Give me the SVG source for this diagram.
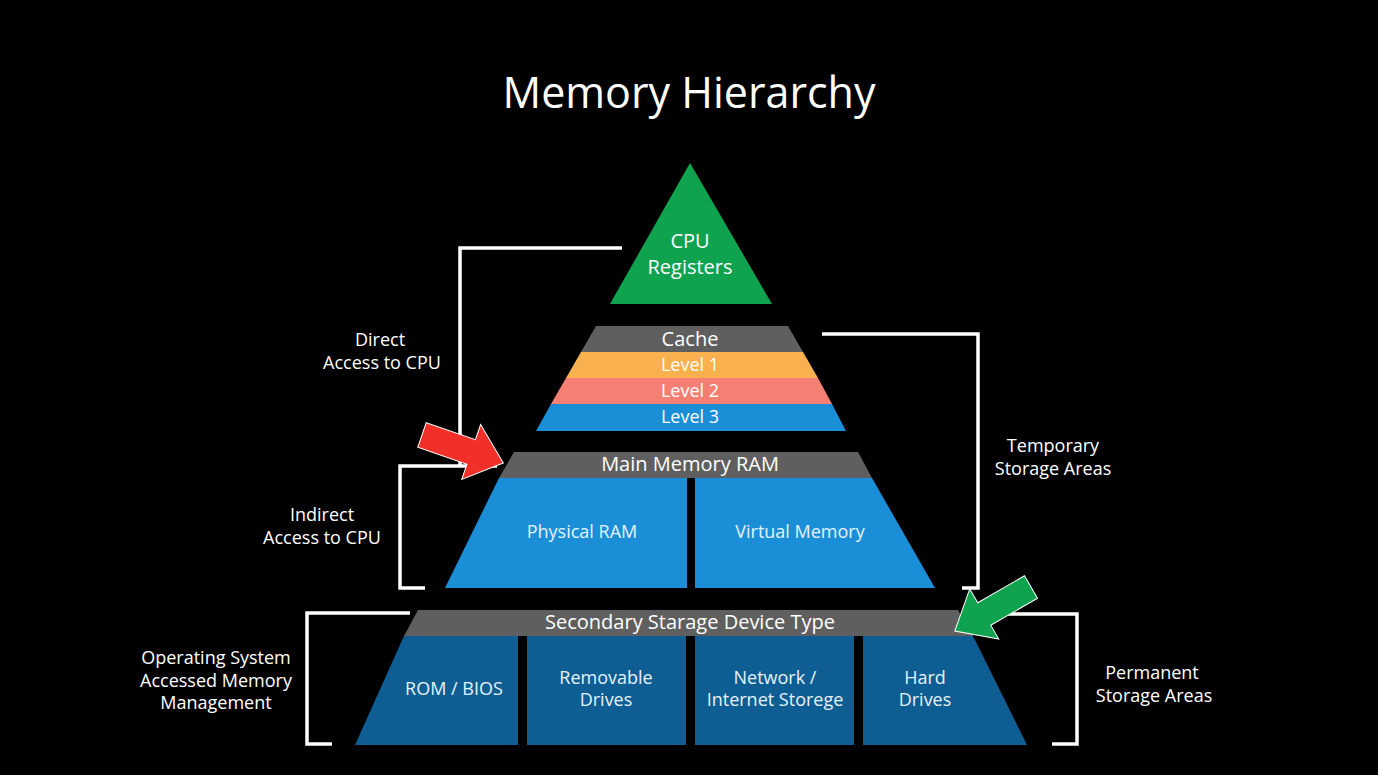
<svg xmlns="http://www.w3.org/2000/svg" width="1378" height="775" viewBox="0 0 1378 775">
<style>
text{font-family:"Open Sans","Noto Sans",sans-serif;fill:#fff;text-anchor:middle}
.l{font-size:18px}
.h{font-size:20px}
.b{fill:none;stroke:#fff;stroke-width:3.5}
.t{font-size:18px;fill:#e6f2fb}
</style>
<rect width="1378" height="775" fill="#000"/>
<text x="689" y="108" style="font-size:43px">Memory Hierarchy</text>
<g id="cpu"><polygon points="690,163 772,304 610,304" fill="#0fa350"/><text class="h" x="690" y="248">CPU</text><text class="h" x="690" y="274">Registers</text></g>
<g id="cache">
<polygon points="596,326 788,326 803,352 581,352" fill="#5f5f5f"/>
<polygon points="581,352 803,352 818,378 566,378" fill="#f9b04f"/>
<polygon points="566,378 818,378 832,404 551,404" fill="#f47f72"/>
<polygon points="551,404 832,404 846,431 536,431" fill="#1a8fd8"/>
<text class="h" x="690" y="346">Cache</text><text class="l" x="690" y="371">Level 1</text><text class="l" x="690" y="397">Level 2</text><text class="l" x="690" y="423">Level 3</text>
</g>
<g id="ram">
<polygon points="514,452 858,452 872,478 499,478" fill="#5f5f5f"/>
<polygon points="499,478 687,478 687,588 445,588" fill="#1a8fd8"/>
<polygon points="695,478 872,478 935,588 695,588" fill="#1a8fd8"/>
<text class="h" x="690" y="471">Main Memory RAM</text>
<text class="t" x="582" y="538">Physical RAM</text><text class="t" x="800" y="538">Virtual Memory</text>
</g>
<g id="secondary">
<polygon points="418,610 958,610 973,636 404,636" fill="#5f5f5f"/>
<polygon points="404,636 518,636 518,745 355,745" fill="#0e5e94"/>
<rect x="527" y="636" width="159" height="109" fill="#0e5e94"/>
<rect x="695" y="636" width="159" height="109" fill="#0e5e94"/>
<polygon points="863,636 973,636 1027,745 863,745" fill="#0e5e94"/>
<text class="h" x="690" y="629">Secondary Starage Device Type</text>
<text class="t" x="454" y="695">ROM / BIOS</text>
<text class="t" x="606" y="684">Removable</text><text class="t" x="606" y="706">Drives</text>
<text class="t" x="775" y="684">Network /</text><text class="t" x="775" y="706">Internet Storege</text>
<text class="t" x="925" y="684">Hard</text><text class="t" x="925" y="706">Drives</text>
</g>
<g id="connectors">
<polyline class="b" points="622,248 460,248 460,466"/>
<polyline class="b" points="497,466 400,466 400,588 425,588"/>
<polyline class="b" points="822,334 978,334 978,588 962,588"/>
<polyline class="b" points="410,613 307,613 307,744 332,744"/>
<polyline class="b" points="1000,614 1077,614 1077,744 1052,744"/>
<polygon points="0,-13 52,-13 52,-29 86,0 52,29 52,13 0,13" fill="#f2302a" stroke="#fff" stroke-width="1" transform="translate(422,435) rotate(19)"/>
<polygon points="0,-13 54,-13 54,-29 88,0 54,29 54,13 0,13" fill="#0fa350" stroke="#fff" stroke-width="1" transform="translate(1031,587) rotate(150)"/>
</g>
<g id="labels">
<text class="l" x="380" y="346">Direct</text><text class="l" x="382" y="369">Access to CPU</text>
<text class="l" x="322" y="521">Indirect</text><text class="l" x="322" y="544">Access to CPU</text>
<text class="l" x="1053" y="452">Temporary</text><text class="l" x="1053" y="475">Storage Areas</text>
<text class="l" x="216" y="664">Operating System</text><text class="l" x="216" y="687">Accessed Memory</text><text class="l" x="216" y="709">Management</text>
<text class="l" x="1152" y="679">Permanent</text><text class="l" x="1154" y="702">Storage Areas</text>
</g>
</svg>
